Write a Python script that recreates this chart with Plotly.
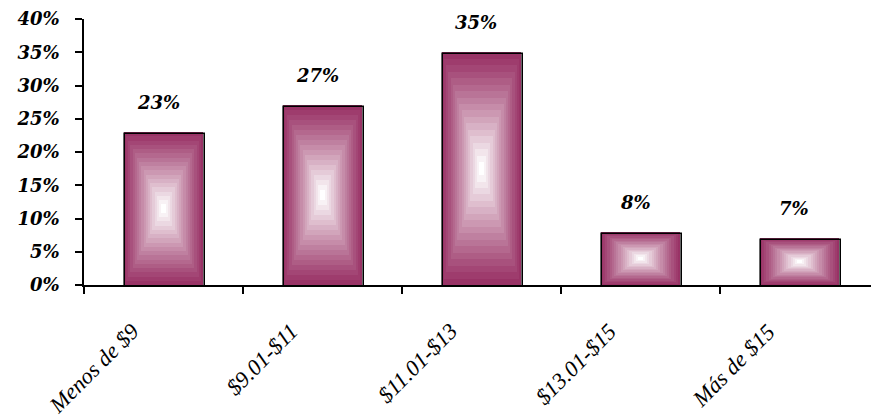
import plotly.graph_objects as go

# Distribution of responses by price range
categories = ["Menos de $9", "$9.01-$11", "$11.01-$13", "$13.01-$15", "Más de $15"]
shares = [23, 27, 35, 8, 7]
value_labels = ["23%", "27%", "35%", "8%", "7%"]
y_ticks = [0, 5, 10, 15, 20, 25, 30, 35, 40]
y_tick_labels = ["0%", "5%", "10%", "15%", "20%", "25%", "30%", "35%", "40%"]

EDGE = (153, 51, 102)
WHITE = (255, 255, 255)
STEPS = 18
BAR_WIDTH = 0.5

# small down-right displacement of the dark outline (shadow look)
OUTLINE_DX = 0.0095
OUTLINE_DY = 0.3

SERIF_BOLD_IT = dict(family="DejaVu Serif", size=18, color="black", weight="bold", style="italic")


def mix(c1, c2, t):
    return "rgb({},{},{})".format(*[round(a + (b - a) * t) for a, b in zip(c1, c2)])


fig = go.Figure()

# "From center" gradient: concentric rectangles shrinking toward the bar's middle
for k in range(STEPS):
    f = 1 - k / STEPS
    t = (k / (STEPS - 1)) ** 1.1
    fig.add_trace(go.Bar(
        x=categories,
        y=[v * f for v in shares],
        base=[v * (1 - f) / 2 for v in shares],
        width=BAR_WIDTH * f,
        marker=dict(color=mix(EDGE, WHITE, t), line=dict(width=0)),
        hoverinfo="skip",
        showlegend=False,
    ))

# Dark outline, nudged slightly right and down
fig.add_trace(go.Bar(
    x=categories,
    y=shares,
    base=[-OUTLINE_DY] * len(shares),
    width=BAR_WIDTH,
    offset=-BAR_WIDTH / 2 + OUTLINE_DX,
    marker=dict(color="rgba(0,0,0,0)", line=dict(color="black", width=1.6)),
    hoverinfo="skip",
    showlegend=False,
))

# Value labels above bars
for cat, v, lab in zip(categories, shares, value_labels):
    fig.add_annotation(
        x=cat, y=v, text=lab, showarrow=False, yanchor="bottom", yshift=17, xshift=-5,
        font=SERIF_BOLD_IT,
    )

# Slanted category labels below the axis
for cat in categories:
    fig.add_annotation(
        x=cat, xref="x", y=0, yref="paper", text=cat, showarrow=False,
        textangle=-45, xanchor="right", yanchor="top", xshift=-17, yshift=-31,
        font=dict(family="Liberation Serif", size=22.5, color="black", style="italic"),
    )

fig.update_layout(
    width=871, height=420,
    margin=dict(l=84, r=0, t=19, b=135),
    plot_bgcolor="white", paper_bgcolor="white",
    barmode="overlay",
    bargap=0,
    xaxis=dict(
        range=[-0.5, 4.45],
        showline=True, linecolor="black", linewidth=1.6,
        ticks="outside", tickson="boundaries", ticklen=7, tickcolor="black", tickwidth=1.6,
        showticklabels=False,
        showgrid=False, zeroline=False,
    ),
    yaxis=dict(
        range=[0, 40], tickmode="array", tickvals=y_ticks, ticktext=y_tick_labels,
        showline=True, linecolor="black", linewidth=1.6,
        ticks="outside", ticklen=7, tickcolor="black", tickwidth=1.6,
        ticklabelstandoff=12,
        tickfont=SERIF_BOLD_IT,
        showgrid=False, zeroline=False,
    ),
)

fig.write_html("out.html")
